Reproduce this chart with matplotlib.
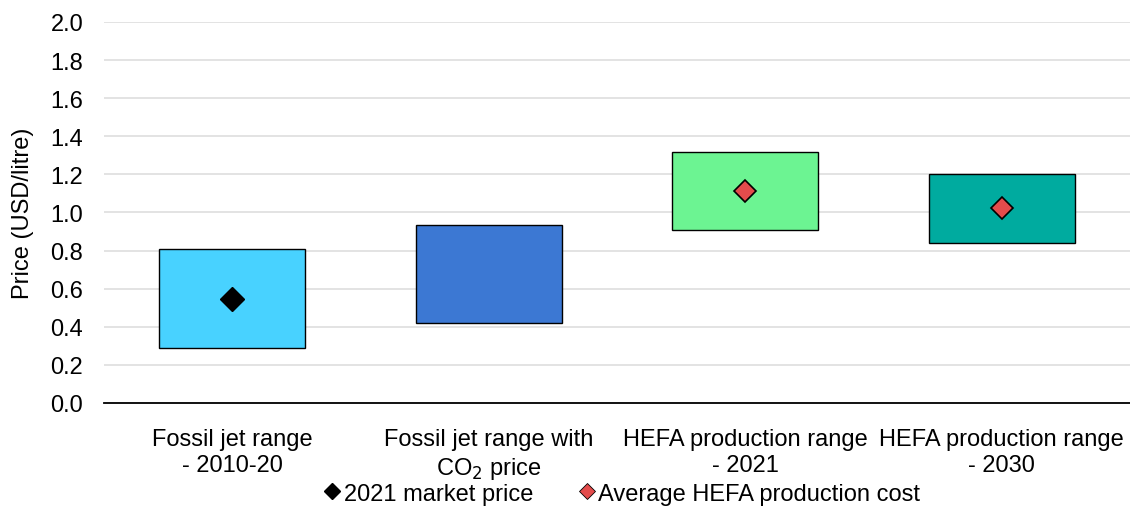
import matplotlib.pyplot as plt
from matplotlib.lines import Line2D
import numpy as np

plt.rcParams['font.family'] = ['Liberation Sans', 'DejaVu Sans']
plt.rcParams['font.size'] = 17

categories = ["Fossil jet range\n- 2010-20", "Fossil jet range with\nCO$_2$ price",
              "HEFA production range\n- 2021", "HEFA production range\n- 2030"]
range_low = [0.29, 0.418, 0.91, 0.838]
range_high = [0.808, 0.934, 1.316, 1.204]
bar_colors = ["#48d2ff", "#3c78d3", "#6cf492", "#00ab9f"]
market_price_2021 = [0.546, None, None, None]
avg_hefa_cost = [None, None, 1.114, 1.022]

fig = plt.figure(figsize=(11.3, 5.1), dpi=100)
ax = fig.add_axes([0.092, 0.208, 0.908, 0.747])

x = np.arange(len(categories))
heights = [h - l for h, l in zip(range_high, range_low)]
ax.bar(x, heights, bottom=range_low, width=0.57, color=bar_colors,
       edgecolor="black", linewidth=1, zorder=3)

for i, v in enumerate(market_price_2021):
    if v is not None:
        ax.plot(i, v, marker="D", ms=12, color="black", zorder=4)
for i, v in enumerate(avg_hefa_cost):
    if v is not None:
        ax.plot(i, v, marker="D", ms=11, markerfacecolor="#e34c4c",
                markeredgecolor="black", markeredgewidth=1.2, zorder=4)

ax.set_xlim(-0.5, len(categories) - 0.5)
ax.set_ylim(0, 2.0)
ax.set_yticks(np.arange(0, 2.01, 0.2))
ax.set_yticklabels([f"{t:.1f}" for t in np.arange(0, 2.01, 0.2)])
ax.set_xticks(x)
ax.set_xticklabels(categories, linespacing=1.25)
ax.tick_params(axis="y", length=0, pad=15)
ax.tick_params(axis="x", length=0, pad=18)
ax.grid(axis="y", color="#dedede", linewidth=1.2, zorder=0)
for s in ["top", "right", "left"]:
    ax.spines[s].set_visible(False)
ax.spines["bottom"].set_linewidth(1.3)
ax.spines["bottom"].set_zorder(5)
ax.set_ylabel("Price (USD/litre)", labelpad=12)

handles = [Line2D([], [], marker="D", ls="none", color="black", ms=8),
           Line2D([], [], marker="D", ls="none", markerfacecolor="#e34c4c",
                  markeredgecolor="black", markeredgewidth=0.6, ms=8)]
fig.legend(handles, ["2021 market price", "Average HEFA production cost"],
           loc="center", bbox_to_anchor=(0.549, 0.03), ncol=2, frameon=False,
           handletextpad=0.0, columnspacing=1.75, handlelength=1.0)

fig.savefig("out.png", dpi=100)
